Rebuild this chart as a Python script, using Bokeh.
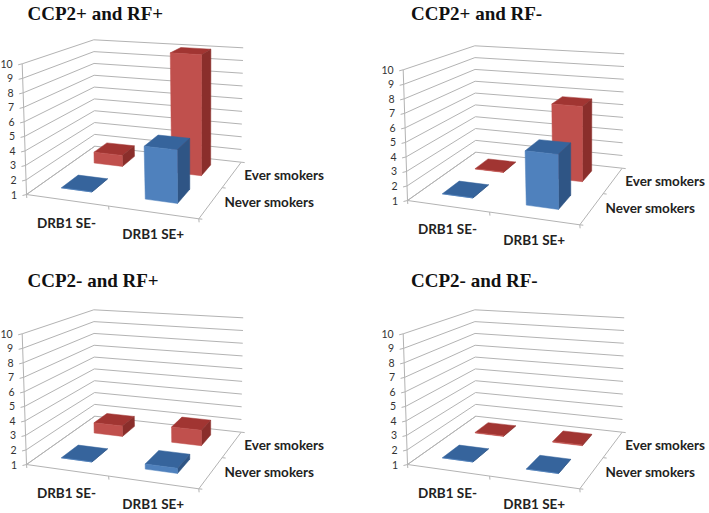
import numpy as np
from bokeh.embed import file_html
from bokeh.layouts import gridplot
from bokeh.models import Range1d, Title
from bokeh.plotting import figure
from bokeh.resources import INLINE
from bokeh.core.properties import value

# ---- data: [DRB1 SE-, DRB1 SE+]
titles = ["CCP2+ and RF+", "CCP2+ and RF-", "CCP2- and RF+", "CCP2- and RF-"]
categories = ["DRB1 SE-", "DRB1 SE+"]
series_names = ["Never smokers", "Ever smokers"]
ticks = [1, 2, 3, 4, 5, 6, 7, 8, 9, 10]
never_smokers = [[1.0, 4.6], [1.0, 4.7], [1.0, 1.35], [1.0, 1.0]]
ever_smokers = [[1.85, 10.0], [1.03, 6.6], [1.8, 2.15], [1.05, 1.06]]

# ---- layout of one 3-D box, in page pixels of the first panel
FLOOR = [(26, 194), (198.3, 218.3), (240.7, 161.7), (94.3, 145.7)]
CEIL = [(21.7, 63.3), (200, 78), (242.7, 47.3), (93.3, 39.3)]
PANEL_OFFSET = [(0, 0), (381, 6), (0, 270), (381, 270)]
TITLE_OFFSET = [27, 56.5, 27, 56.5]
TITLE_STANDOFF = [5, 5, 4, 4]
TITLE_VALIGN = ["bottom", "bottom", "top", "top"]
# x, width, frame top, frame bottom in page pixels
CELLS = [(0, 354, 26, 267), (354, 355, 26, 267), (0, 354, 294, 513), (354, 355, 294, 513)]
U_SPAN = [(0.138, 0.33), (0.65, 0.835)]
V_SPAN = {"never": (0.17, 0.41), "ever": (0.66, 0.88)}
RED = ("#C0504D", "#A13532", "#8A2E2B")
BLUE = ("#4F81BD", "#36649C", "#2F5585")
GRID = "#B3B3B3"


def homography(quad):
    src = [(0, 0), (1, 0), (1, 1), (0, 1)]
    rows, rhs = [], []
    for (s, t), (x, y) in zip(src, quad):
        rows.append([s, t, 1, 0, 0, 0, -s * x, -t * x]); rhs.append(x)
        rows.append([0, 0, 0, s, t, 1, -s * y, -t * y]); rhs.append(y)
    h = np.linalg.solve(np.array(rows, float), np.array(rhs, float))
    return np.append(h, 1).reshape(3, 3)


H_FLOOR, H_CEIL = homography(FLOOR), homography(CEIL)


def apply(h, u, v):
    x, y, z = h @ np.array([u, v, 1.0])
    return np.array([x / z, y / z])


def project(u, v, val, off):
    w = (val - ticks[0]) / (ticks[-1] - ticks[0])
    return (1 - w) * apply(H_FLOOR, u, v) + w * apply(H_CEIL, u, v) + np.array(off)


def polyline(p, pts, width=1.0, color=GRID):
    p.line([q[0] for q in pts], [q[1] for q in pts], line_color=color, line_width=width)


def face(p, pts, color):
    p.patch([q[0] for q in pts], [q[1] for q in pts], fill_color=color, line_color=color, line_width=0.5)


def bar(p, us, vs, val, off, colors):
    front, top, side = colors
    u0, u1 = us
    v0, v1 = vs
    b = ticks[0]
    P = lambda a, c, h: project(a, c, h, off)
    face(p, [P(u0, v0, val), P(u1, v0, val), P(u1, v1, val), P(u0, v1, val)], top)
    face(p, [P(u1, v0, b), P(u1, v1, b), P(u1, v1, val), P(u1, v0, val)], side)
    face(p, [P(u0, v0, b), P(u1, v0, b), P(u1, v0, val), P(u0, v0, val)], front)


def txt(p, x, y, s, font, size, color, weight="normal", align="left"):
    p.text([x], [y], text=[s], text_font=value(font), text_font_size=value(f"{size}px"),
           text_font_style=value(weight), text_color=value(color), text_align=value(align),
           text_baseline=value("middle"))


figs = []
for i, name in enumerate(titles):
    cx, cw, top, bottom = CELLS[i]
    off = PANEL_OFFSET[i]
    p = figure(width=cw, frame_width=cw, frame_height=bottom - top, output_backend="svg",
               toolbar_location=None, x_axis_type=None, y_axis_type=None,
               min_border=0, outline_line_color=None, background_fill_color="white",
               x_range=Range1d(cx, cx + cw), y_range=Range1d(bottom, top), title=None)
    p.grid.visible = False
    p.add_layout(Title(text=name, align="left", offset=TITLE_OFFSET[i], text_font="Liberation Serif",
                       text_font_size="19px", text_font_style="bold", text_color="#111111",
                       standoff=TITLE_STANDOFF[i], vertical_align=TITLE_VALIGN[i]), "above")

    # walls and gridlines
    for t in ticks:
        polyline(p, [project(0, 0, t, off), project(0, 1, t, off), project(1, 1, t, off)])
        a = project(0, 0, t, off)
        polyline(p, [a, a + np.array([-4, 1.0])])
        txt(p, a[0] - 9.5, a[1], str(t), "Lato", 10.5, "#333333", align="right")
    polyline(p, [project(0, 0, ticks[0], off), project(0, 0, ticks[-1], off)])
    # floor frame
    polyline(p, [project(0, 1, 1, off), project(0, 0, 1, off), project(1, 0, 1, off), project(1, 1, 1, off)])
    for u in (0, 0.5, 1):
        a = project(u, 0, 1, off)
        polyline(p, [a, a + np.array([0.3, 3.5])])
    for v in (0, 0.5, 1):
        a = project(1, v, 1, off)
        polyline(p, [a, a + np.array([3.5, 0.4])])

    # bars, back row first
    for j in range(2):
        bar(p, U_SPAN[j], V_SPAN["ever"], ever_smokers[i][j], off, RED)
    for j in range(2):
        bar(p, U_SPAN[j], V_SPAN["never"], never_smokers[i][j], off, BLUE)

    # category and series labels
    ox, oy = off
    txt(p, ox + 66, oy + 222, categories[0], "Lato", 13.5, "#222222", "bold", "center")
    txt(p, ox + 152.7, oy + 233, categories[1], "Lato", 13.5, "#222222", "bold", "center")
    txt(p, ox + 243.7, oy + 174, series_names[1], "Lato", 13.5, "#222222", "bold")
    txt(p, ox + 224, oy + 201.7, series_names[0], "Lato", 13.5, "#222222", "bold")
    figs.append(p)

grid = gridplot([[figs[0], figs[1]], [figs[2], figs[3]]], toolbar_location=None, merge_tools=False)
grid.margin = (-2, 0, 0, 0)
open("out.html", "w").write(file_html(grid, INLINE))
